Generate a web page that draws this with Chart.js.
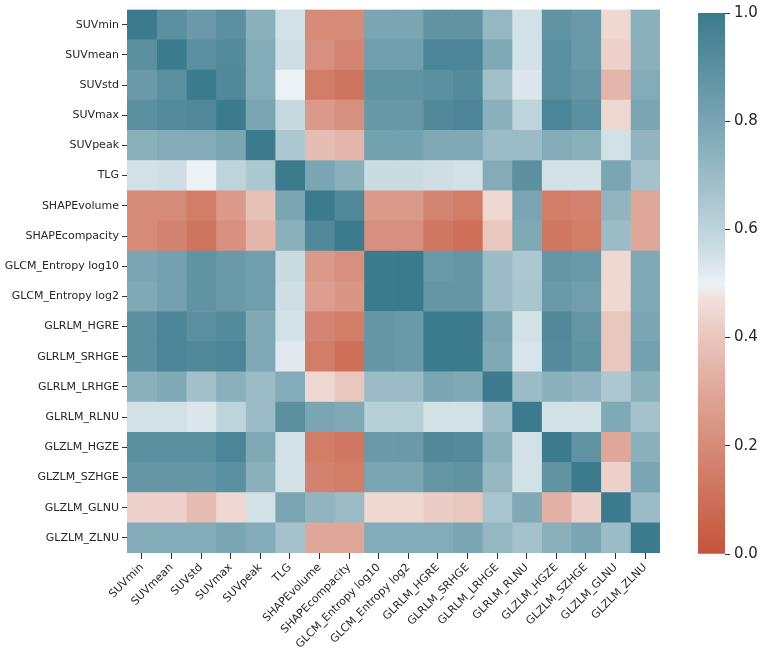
<!DOCTYPE html>
<html>
<head>
<meta charset="utf-8">
<script src="https://cdn.jsdelivr.net/npm/chart.js@4"></script>
<style>
  body { margin: 0; background: #fff; }
  #wrap { position: relative; width: 762px; height: 648px; }
  #heat { position: absolute; left: 0; top: 0; }
  #cbar { position: absolute; left: 680px; top: 0; }
</style>
</head>
<body>
<div id="wrap">
  <canvas id="heat" width="762" height="648"></canvas>
  <canvas id="cbar" width="82" height="648"></canvas>
</div>
<script>
const features = ['SUVmin', 'SUVmean', 'SUVstd', 'SUVmax', 'SUVpeak', 'TLG', 'SHAPEvolume', 'SHAPEcompacity',
  'GLCM_Entropy log10', 'GLCM_Entropy log2', 'GLRLM_HGRE', 'GLRLM_SRHGE', 'GLRLM_LRHGE', 'GLRLM_RLNU',
  'GLZLM_HGZE', 'GLZLM_SZHGE', 'GLZLM_GLNU', 'GLZLM_ZLNU'];

// correlation values, one row per feature
const suvMin      = [1.00, 0.90, 0.85, 0.90, 0.75, 0.55, 0.20, 0.20, 0.80, 0.80, 0.88, 0.88, 0.72, 0.55, 0.88, 0.85, 0.45, 0.75];
const suvMean     = [0.90, 1.00, 0.90, 0.92, 0.77, 0.56, 0.22, 0.18, 0.83, 0.83, 0.95, 0.95, 0.78, 0.55, 0.90, 0.85, 0.43, 0.75];
const suvStd      = [0.85, 0.90, 1.00, 0.93, 0.77, 0.50, 0.15, 0.12, 0.88, 0.88, 0.90, 0.92, 0.68, 0.53, 0.90, 0.87, 0.35, 0.77];
const suvMax      = [0.90, 0.92, 0.93, 1.00, 0.80, 0.58, 0.25, 0.22, 0.86, 0.86, 0.93, 0.95, 0.75, 0.60, 0.95, 0.90, 0.45, 0.80];
const suvPeak     = [0.75, 0.77, 0.77, 0.80, 1.00, 0.65, 0.37, 0.35, 0.82, 0.82, 0.78, 0.78, 0.70, 0.70, 0.77, 0.75, 0.55, 0.73];
const tlg         = [0.55, 0.56, 0.50, 0.60, 0.65, 1.00, 0.80, 0.75, 0.57, 0.57, 0.56, 0.55, 0.77, 0.90, 0.55, 0.55, 0.80, 0.67];
const shapeVolume = [0.20, 0.20, 0.15, 0.25, 0.38, 0.80, 1.00, 0.93, 0.25, 0.25, 0.18, 0.15, 0.45, 0.80, 0.15, 0.17, 0.73, 0.30];
const shapeCompac = [0.20, 0.17, 0.12, 0.22, 0.35, 0.75, 0.93, 1.00, 0.22, 0.22, 0.13, 0.10, 0.40, 0.78, 0.13, 0.15, 0.70, 0.30];
const glcmLog10   = [0.80, 0.82, 0.88, 0.85, 0.83, 0.57, 0.25, 0.22, 1.00, 1.00, 0.85, 0.87, 0.70, 0.65, 0.87, 0.85, 0.45, 0.78];
const glcmLog2    = [0.78, 0.82, 0.88, 0.85, 0.83, 0.56, 0.27, 0.24, 1.00, 1.00, 0.87, 0.87, 0.70, 0.66, 0.85, 0.83, 0.45, 0.78];
const glrlmHgre   = [0.90, 0.95, 0.90, 0.92, 0.78, 0.55, 0.18, 0.15, 0.87, 0.85, 1.00, 1.00, 0.80, 0.55, 0.93, 0.87, 0.40, 0.80];
const glrlmSrhge  = [0.90, 0.95, 0.93, 0.95, 0.78, 0.52, 0.15, 0.10, 0.87, 0.85, 1.00, 1.00, 0.78, 0.54, 0.92, 0.88, 0.40, 0.82];
const glrlmLrhge  = [0.75, 0.78, 0.68, 0.75, 0.70, 0.77, 0.45, 0.40, 0.70, 0.70, 0.80, 0.78, 1.00, 0.70, 0.75, 0.73, 0.65, 0.75];
const glrlmRlnu   = [0.55, 0.55, 0.53, 0.60, 0.70, 0.90, 0.80, 0.78, 0.62, 0.62, 0.55, 0.55, 0.70, 1.00, 0.55, 0.55, 0.78, 0.67];
const glzlmHgze   = [0.90, 0.90, 0.90, 0.95, 0.78, 0.55, 0.15, 0.13, 0.85, 0.85, 0.93, 0.92, 0.75, 0.55, 1.00, 0.88, 0.30, 0.75];
const glzlmSzhge  = [0.87, 0.87, 0.87, 0.90, 0.75, 0.55, 0.17, 0.15, 0.80, 0.80, 0.87, 0.88, 0.72, 0.55, 0.88, 1.00, 0.43, 0.80];
const glzlmGlnu   = [0.43, 0.43, 0.37, 0.45, 0.55, 0.80, 0.73, 0.70, 0.45, 0.45, 0.42, 0.40, 0.66, 0.78, 0.33, 0.43, 1.00, 0.70];
const glzlmZlnu   = [0.77, 0.77, 0.77, 0.80, 0.77, 0.67, 0.30, 0.30, 0.77, 0.77, 0.77, 0.80, 0.72, 0.67, 0.75, 0.80, 0.70, 1.00];

const matrix = [suvMin, suvMean, suvStd, suvMax, suvPeak, tlg, shapeVolume, shapeCompac, glcmLog10, glcmLog2,
  glrlmHgre, glrlmSrhge, glrlmLrhge, glrlmRlnu, glzlmHgze, glzlmSzhge, glzlmGlnu, glzlmZlnu];

const cbarTicks = [0, 0.2, 0.4, 0.6, 0.8, 1.0];

// diverging palette: red (0) -> light (0.5) -> teal (1), each half lightly tinted near the centre
const lowColor = [196, 85, 58];
const lowLight = [246, 237, 235];
const highLight = [235, 242, 245];
const highColor = [60, 123, 142];

function valueColor(v) {
  let a, b, t;
  if (v < 0.5) { a = lowLight; b = lowColor; t = (0.5 - v) / 0.5; }
  else { a = highLight; b = highColor; t = (v - 0.5) / 0.5; }
  t = Math.pow(t, 0.85);
  const c = a.map((x, i) => Math.round(x + (b[i] - x) * t));
  return 'rgb(' + c.join(',') + ')';
}

const tickFont = { family: 'DejaVu Sans', size: 11 };
const textColor = '#262626';

// one stacked dataset per column, each cell one unit wide
const datasets = features.map((col, j) => ({
  label: col,
  data: features.map(() => 1),
  backgroundColor: matrix.map(row => valueColor(row[j])),
  borderWidth: 0,
  barPercentage: 1,
  categoryPercentage: 1,
}));

new Chart(document.getElementById('heat'), {
  type: 'bar',
  data: { labels: features, datasets: datasets },
  options: {
    indexAxis: 'y',
    responsive: false,
    animation: false,
    layout: { padding: { top: 7, right: 102, left: 0, bottom: 0 } },
    plugins: { legend: { display: false }, tooltip: { enabled: false } },
    scales: {
      x: {
        type: 'linear',
        stacked: true,
        min: 0,
        max: features.length,
        afterBuildTicks: axis => { axis.ticks = features.map((f, i) => ({ value: i + 0.5 })); },
        afterFit: axis => { axis.height = 95; },
        ticks: {
          autoSkip: false,
          minRotation: 45,
          maxRotation: 45,
          padding: 2,
          color: textColor,
          font: tickFont,
          callback: (v, i) => features[i],
        },
        grid: { drawOnChartArea: false, tickLength: 6, color: '#333', lineWidth: 1 },
        border: { display: false },
      },
      y: {
        stacked: true,
        afterFit: axis => { axis.width = 127; },
        ticks: { color: textColor, font: tickFont, padding: 3 },
        grid: { drawOnChartArea: false, offset: false, tickLength: 5, color: '#333', lineWidth: 1 },
        border: { display: false },
      },
    },
  },
});

// colour bar
new Chart(document.getElementById('cbar'), {
  type: 'bar',
  data: {
    labels: [''],
    datasets: [{
      data: [[0, 1]],
      barPercentage: 1,
      categoryPercentage: 1,
      borderWidth: 0,
      backgroundColor: ctx => {
        const chart = ctx.chart;
        const y = chart.scales.y;
        if (!chart.chartArea || !y) return valueColor(0.5);
        const g = chart.ctx.createLinearGradient(0, y.getPixelForValue(0), 0, y.getPixelForValue(1));
        for (let k = 0; k <= 40; k++) g.addColorStop(k / 40, valueColor(k / 40));
        return g;
      },
    }],
  },
  options: {
    responsive: false,
    animation: false,
    layout: { padding: { top: 7, left: 18, bottom: 94, right: 0 } },
    plugins: { legend: { display: false }, tooltip: { enabled: false } },
    scales: {
      x: { display: false },
      y: {
        position: 'right',
        min: 0,
        max: 1,
        afterBuildTicks: axis => { axis.ticks = cbarTicks.map(v => ({ value: v })); },
        afterFit: axis => { axis.width = 37; },
        ticks: {
          color: textColor,
          font: { family: 'DejaVu Sans', size: 15 },
          padding: 4,
          callback: v => v.toFixed(1),
        },
        grid: { drawOnChartArea: false, tickLength: 5, color: '#333' },
        border: { display: false },
      },
    },
  },
});
</script>
</body>
</html>
